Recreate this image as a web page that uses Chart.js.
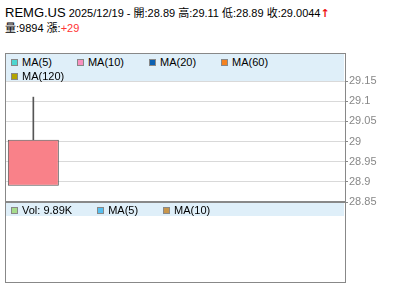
<!DOCTYPE html>
<html lang="zh-Hant">
<head>
    <meta charset="UTF-8">
    <title>REMG.US</title>
    <script src="https://cdn.jsdelivr.net/npm/chart.js"></script>
    <style>
        body { margin: 0; width: 400px; height: 301px; overflow: hidden; background: #fff;
               font-family: Arial, "Liberation Sans", "Noto Sans CJK TC", sans-serif; position: relative; }
        #chartBox { position: absolute; left: 0; top: 0; }
        .abs { position: absolute; }
        #head1 { left: 5px; top: 4px; white-space: nowrap; font-size: 11px; color: #000; }
        #head1 .code { font-size: 13px; }
        #head2 { left: 5px; top: 19px; white-space: nowrap; font-size: 11px; color: #000; }
        .red { color: #f33; }
        .arrow { color: #e11; font-weight: bold; font-family: "DejaVu Sans", sans-serif; font-size: 11px; }
        .frame { border: 1px solid #888; pointer-events: none; }
        .legendBg { background: #dfeff9; }
        .legRow { display: flex; height: 14px; align-items: center; font-size: 11px; color: #000; white-space: nowrap; }
        .item { display: flex; align-items: center; margin-right: 25px; }
        .sq { width: 5px; height: 5px; border: 1px solid #888; margin-right: 4px; }
    </style>
</head>
<body>

<div id="head1" class="abs"><span class="code">REMG.US</span> <span id="ohlc"></span><span class="arrow">↑</span></div>
<div id="head2" class="abs"></div>

<div id="chartBox"><canvas id="myChart" width="400" height="301"></canvas></div>

<!-- frames and legends on top of the canvas -->
<div class="abs frame" style="left:5px; top:53px; width:339px; height:228px;"></div>
<div class="abs legendBg" style="left:6px; top:54px; width:338px; height:27px;"></div>
<div class="abs" style="left:5px; top:201px; width:341px; height:2px; background:#888;"></div>
<div class="abs legendBg" style="left:6px; top:203px; width:338px; height:13px;"></div>
<div id="legMain1" class="abs legRow" style="left:11px; top:55px;"></div>
<div id="legMain2" class="abs legRow" style="left:11px; top:69px;"></div>
<div id="legVol" class="abs legRow" style="left:11px; top:203px;"></div>

<script>
    // data
    var symbol = 'REMG.US';
    var dates = ['2025/12/19'];
    var opens = [28.89];
    var highs = [29.11];
    var lows = [28.89];
    var closes = [29.0044];
    var volumes = [9894];
    var change = '+29';
    var slotCount = 6;   // candle slots across the plot

    var yTicks = [28.85, 28.9, 28.95, 29, 29.05, 29.1, 29.15];

    var maNames = ['MA(5)', 'MA(10)', 'MA(20)', 'MA(60)', 'MA(120)'];
    var maColors = ['#4dd6d0', '#f890bf', '#0a60b2', '#f5821f', '#b3a400'];
    var volNames = ['Vol: ' + (volumes[0] / 1000).toFixed(2) + 'K', 'MA(5)', 'MA(10)'];
    var volColors = ['#a6dc8c', '#55bff0', '#c8964b'];

    // header
    var last = dates.length - 1;
    document.getElementById('ohlc').textContent = dates[last] + ' - 開:' + opens[last] + ' 高:' + highs[last] +
        ' 低:' + lows[last] + ' 收:' + closes[last];
    document.getElementById('head2').innerHTML = '量:' + volumes[last] + ' 漲:<span class="red">' + change + '</span>';

    function legendItem(name, color){
        return '<div class="item"><div class="sq" style="background:' + color + '"></div>' + name + '</div>';
    }
    var html1 = '', html2 = '', html3 = '';
    for (var i = 0; i < maNames.length; i++){
        if (i < 4) html1 += legendItem(maNames[i], maColors[i]);
        else html2 += legendItem(maNames[i], maColors[i]);
    }
    for (var j = 0; j < volNames.length; j++){
        html3 += legendItem(volNames[j], volColors[j]);
    }
    document.getElementById('legMain1').innerHTML = html1;
    document.getElementById('legMain2').innerHTML = html2;
    document.getElementById('legVol').innerHTML = html3;

    // candle: wick (body top -> high) + body as floating bars
    // low == open here, so there is no lower wick to draw
    var labels = [];
    var wick = [];
    var body = [];
    for (var k = 0; k < slotCount; k++){
        labels.push(dates[k] || '');
        if (k < dates.length){
            wick.push([Math.max(opens[k], closes[k]), highs[k]]);
            body.push([opens[k], closes[k]]);
        } else {
            wick.push(null);
            body.push(null);
        }
    }

    var myChart = new Chart(document.getElementById('myChart'), {
        type: 'bar',
        data: {
            labels: labels,
            datasets: [{
                label: 'body',
                data: body,
                backgroundColor: '#f98189',
                borderColor: '#555',
                borderWidth: 1,
                borderSkipped: false,
                barPercentage: 0.9,
                categoryPercentage: 1,
                grouped: false,
                order: 0
            }, {
                label: 'wick',
                data: wick,
                backgroundColor: '#555',
                barThickness: 1,
                grouped: false,
                order: 1
            }]
        },
        options: {
            responsive: false,
            animation: false,
            devicePixelRatio: 1,
            layout: { padding: { left: 5, right: 3, top: 81, bottom: 99 } },
            plugins: { legend: { display: false }, tooltip: { enabled: false } },
            scales: {
                x: { display: false },
                y: {
                    position: 'right',
                    min: yTicks[0],
                    max: yTicks[yTicks.length - 1],
                    afterFit: function(scale){ scale.width = 52; },
                    afterBuildTicks: function(scale){
                        scale.ticks = yTicks.map(function(v){ return { value: v }; });
                    },
                    grid: { color: '#d9d9d9', tickColor: '#888', tickLength: 3 },
                    border: { color: '#888' },
                    ticks: {
                        color: '#888',
                        padding: 1,
                        font: { family: 'Arial, "Liberation Sans"', size: 11 },
                        callback: function(v){ return String(+v.toFixed(4)); }
                    }
                }
            }
        }
    });
</script>
</body>
</html>
